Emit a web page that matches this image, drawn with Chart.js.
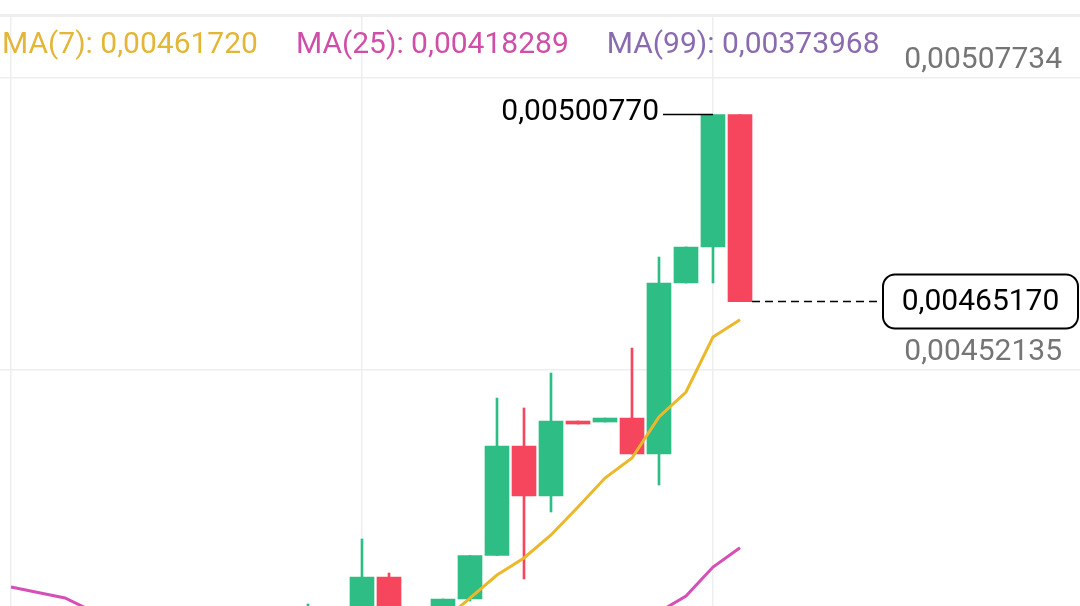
<!DOCTYPE html>
<html>
<head>
<meta charset="utf-8">
<script src="https://cdn.jsdelivr.net/npm/chart.js@4.4.1/dist/chart.umd.min.js"></script>
<style>
  html, body { margin: 0; padding: 0; background: #fff; }
  #wrap { width: 1080px; height: 606px; position: relative; }
</style>
</head>
<body>
<div id="wrap"><canvas id="chart" width="1080" height="606"></canvas></div>
<script>
// candle index (0 = first candle at the left grid line)
const candleIdx = [0, 1, 2, 3, 4, 5, 6, 7, 8, 9, 10, 11, 12, 13, 14, 15, 16, 17, 18, 19, 20, 21, 22, 23, 24, 25, 26, 27];
const opens  = [0.00402, 0.00400, 0.00398, 0.00397, 0.00395, 0.00398, 0.00396, 0.00394, 0.00397, 0.00399, 0.00401, 0.00400, 0.00405, 0.00403, 0.0041272, 0.00404, 0.00401, 0.0040853, 0.0041681, 0.0043766, 0.0042814, 0.0044242, 0.0044223, 0.0044299, 0.0043614, 0.0046870, 0.0047556, 0.0050077];
const highs  = [0.00405, 0.00403, 0.00401, 0.00400, 0.00399, 0.00402, 0.00399, 0.00398, 0.00401, 0.00403, 0.00404, 0.0040758, 0.00406, 0.0041996, 0.0041348, 0.00406, 0.0040853, 0.0041681, 0.0044680, 0.0044490, 0.0045156, 0.0044242, 0.0044299, 0.0045632, 0.0047365, 0.0047556, 0.0050077, 0.0050077];
const lows   = [0.00398, 0.00396, 0.00394, 0.00393, 0.00392, 0.00395, 0.00391, 0.00390, 0.00394, 0.00396, 0.00397, 0.00398, 0.00401, 0.00402, 0.00402, 0.00399, 0.00400, 0.0040815, 0.0041681, 0.0041234, 0.0042510, 0.0044185, 0.0044223, 0.0043614, 0.0043024, 0.0046870, 0.0046870, 0.0046517];
const closes = [0.00400, 0.00398, 0.00397, 0.00395, 0.00398, 0.00396, 0.00394, 0.00397, 0.00399, 0.00401, 0.00400, 0.00405, 0.00403, 0.0041272, 0.00404, 0.00401, 0.0040853, 0.0041681, 0.0043766, 0.0042814, 0.0044242, 0.0044185, 0.0044299, 0.0043614, 0.0046870, 0.0047556, 0.0050077, 0.0046517];

const ma7  = [0.00399, 0.00398, 0.00398, 0.00397, 0.00397, 0.00396, 0.00396, 0.00396, 0.00397, 0.00397, 0.00398, 0.00399, 0.00400, 0.00401, 0.00402, 0.00403, 0.0040434, 0.0040872, 0.0041310, 0.0041634, 0.0042072, 0.0042605, 0.0043157, 0.0043538, 0.0044319, 0.0044795, 0.0045842, 0.0046172];
const ma25 = [0.0041082, 0.0040977, 0.0040872, 0.0040625, 0.00405, 0.00404, 0.00403, 0.00402, 0.00401, 0.00400, 0.00400, 0.00399, 0.00399, 0.00399, 0.00399, 0.00399, 0.00400, 0.00400, 0.00401, 0.00401, 0.00402, 0.00403, 0.00403, 0.00404, 0.0040606, 0.0040910, 0.0041462, 0.0041829];

const legendItems = ["MA(7): 0,00461720", "MA(25): 0,00418289", "MA(99): 0,00373968"];
const priceTicks = [0.00452135, 0.00507734];
const timeTicks = [0, 13, 26];
const lastPrice = 0.00465170;
const highLabel = "0,00500770";

const UP = "#2ebd85";
const DOWN = "#f6465d";
const FONT = "Roboto, 'Noto Sans', sans-serif";

const fmt = (v) => v.toFixed(8).replace(".", ",");

const isUp = candleIdx.map((i) => closes[i] >= opens[i]);
const colors = isUp.map((u) => (u ? UP : DOWN));

// strip at top + MA legend
const headerPlugin = {
  id: "header",
  beforeDraw(chart) {
    const ctx = chart.ctx;
    ctx.save();
    ctx.fillStyle = "#eeeeee";
    ctx.fillRect(0, 14, chart.width, 3);
    ctx.restore();
  },
  afterDraw(chart) {
    const ctx = chart.ctx;
    ctx.save();
    ctx.font = "30px " + FONT;
    ctx.textBaseline = "alphabetic";
    const legendColors = ["#e3b637", "#cf4fa8", "#8a6bb0"];
    let x = 2;
    legendItems.forEach((t, k) => {
      ctx.fillStyle = legendColors[k];
      ctx.fillText(t, x, 53);
      x += ctx.measureText(t).width + 38;
    });
    ctx.restore();
  },
};

// highest price marker and last price box
const markerPlugin = {
  id: "markers",
  afterDatasetsDraw(chart) {
    const ctx = chart.ctx;
    const xs = chart.scales.x;
    const ys = chart.scales.y;

    let hi = 0;
    candleIdx.forEach((i) => { if (highs[i] > highs[hi]) hi = i; });
    const hx = xs.getPixelForValue(hi);
    const hy = ys.getPixelForValue(highs[hi]);
    ctx.save();
    ctx.strokeStyle = "#000";
    ctx.lineWidth = 1.5;
    ctx.beginPath();
    ctx.moveTo(hx - 50, hy);
    ctx.lineTo(hx, hy);
    ctx.stroke();
    ctx.font = "30px " + FONT;
    ctx.fillStyle = "#000";
    ctx.textAlign = "right";
    ctx.textBaseline = "middle";
    ctx.fillText(highLabel, hx - 54, hy - 2);

    const last = candleIdx[candleIdx.length - 1];
    const ly = ys.getPixelForValue(lastPrice);
    const lx = xs.getPixelForValue(last) + 12;
    const boxL = 883, boxR = 1078, boxH = 54;
    ctx.setLineDash([8, 5]);
    ctx.lineWidth = 1.5;
    ctx.beginPath();
    ctx.moveTo(lx, ly);
    ctx.lineTo(boxL, ly);
    ctx.stroke();
    ctx.setLineDash([]);
    ctx.lineWidth = 2;
    ctx.fillStyle = "#fff";
    ctx.beginPath();
    ctx.roundRect(boxL, ly - boxH / 2, boxR - boxL, boxH, 12);
    ctx.fill();
    ctx.stroke();
    ctx.fillStyle = "#000";
    ctx.textAlign = "center";
    ctx.fillText(fmt(lastPrice), (boxL + boxR) / 2, ly + 1);
    ctx.restore();
  },
};

const ctx = document.getElementById("chart").getContext("2d");
new Chart(ctx, {
  type: "bar",
  data: {
    datasets: [
      {
        type: "line",
        label: "MA(7)",
        data: candleIdx.map((i) => ({ x: i, y: ma7[i] })),
        borderColor: "#ecb82b",
        borderWidth: 3,
        pointRadius: 0,
        tension: 0,
        order: 0,
      },
      {
        type: "line",
        label: "MA(25)",
        data: candleIdx.map((i) => ({ x: i, y: ma25[i] })),
        borderColor: "#d54fb6",
        borderWidth: 3,
        pointRadius: 0,
        tension: 0,
        order: 0,
      },
      {
        label: "body",
        data: candleIdx.map((i) => ({ x: i, y: [opens[i], closes[i]] })),
        backgroundColor: colors,
        barThickness: 24,
        grouped: false,
        order: 1,
      },
      {
        label: "wick",
        data: candleIdx.map((i) => ({ x: i, y: [lows[i], highs[i]] })),
        backgroundColor: colors,
        barThickness: 2,
        grouped: false,
        order: 2,
      },
    ],
  },
  options: {
    responsive: false,
    animation: false,
    events: [],
    layout: { padding: { top: 17, left: 0, right: 0, bottom: 0 } },
    plugins: { legend: { display: false }, tooltip: { enabled: false } },
    scales: {
      x: {
        type: "linear",
        offset: false,
        min: -0.4074,
        max: 39.593,
        afterBuildTicks: (axis) => { axis.ticks = timeTicks.map((v) => ({ value: v })); },
        ticks: { display: false },
        grid: { offset: false, color: "#eeeeee", lineWidth: 1.5, drawTicks: false },
        border: { display: false },
      },
      y: {
        position: "right",
        min: 0.0040720,
        max: 0.0051935,
        afterBuildTicks: (axis) => { axis.ticks = priceTicks.map((v) => ({ value: v })); },
        ticks: {
          mirror: true,
          padding: -18,
          labelOffset: -18,
          color: "#757575",
          font: { family: FONT, size: 30 },
          callback: (v) => fmt(v),
        },
        grid: { color: "#eeeeee", lineWidth: 1.5, drawTicks: false },
        border: { display: false },
      },
    },
  },
  plugins: [headerPlugin, markerPlugin],
});
</script>
</body>
</html>
